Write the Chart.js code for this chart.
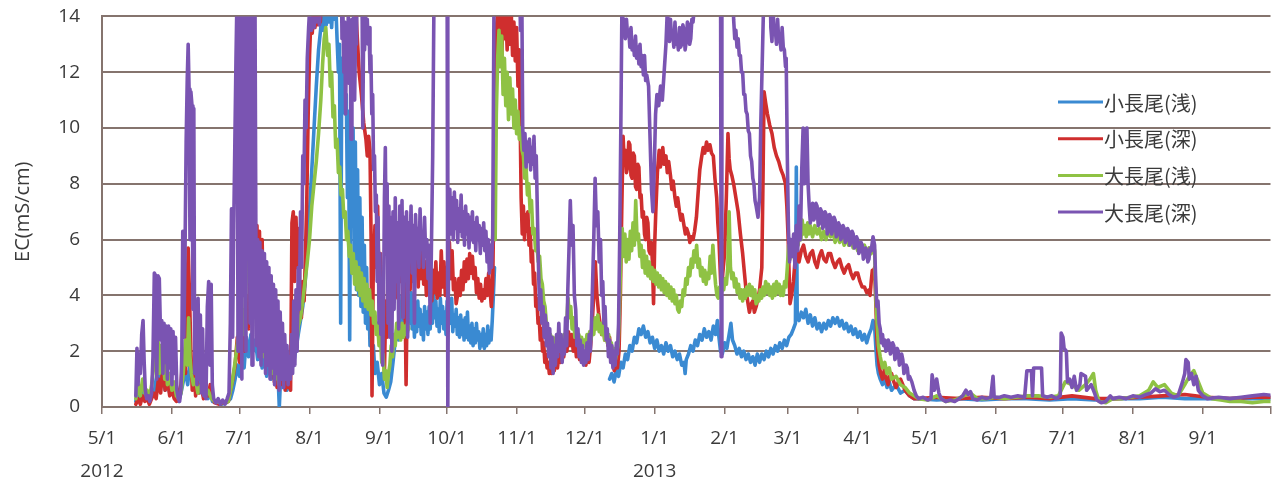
<!DOCTYPE html>
<html lang="ja">
<head>
<meta charset="utf-8">
<title>EC 小長尾・大長尾</title>
<script src="https://cdn.jsdelivr.net/npm/chart.js@4.4.1/dist/chart.umd.min.js"></script>
<style>
  html, body { margin: 0; padding: 0; background: #ffffff; }
  #wrap { width: 1279px; height: 482px; }
</style>
</head>
<body>
<div id="wrap"><canvas id="ec" width="1279" height="482"></canvas></div>
<script>
// ---------- data ----------
// x values are days counted from the axis start date; y values are EC in mS/cm
const axisStart = '2012-05-01';
const axisEnd = '2013-10-01';
const seriesLabels = ['小長尾(浅)', '小長尾(深)', '大長尾(浅)', '大長尾(深)'];
const monthTicks = ['2012-05-01', '2012-06-01', '2012-07-01', '2012-08-01', '2012-09-01', '2012-10-01',
  '2012-11-01', '2012-12-01', '2013-01-01', '2013-02-01', '2013-03-01', '2013-04-01', '2013-05-01',
  '2013-06-01', '2013-07-01', '2013-08-01', '2013-09-01', '2013-10-01'];
const monthLabels = ['5/1', '6/1', '7/1', '8/1', '9/1', '10/1', '11/1', '12/1', '1/1', '2/1', '3/1',
  '4/1', '5/1', '6/1', '7/1', '8/1', '9/1', ''];
const yearTicks = ['2012-05-01', '2013-01-01'];
const yearLabels = ['2012', '2013'];
const yMin = 0, yMax = 14, yStep = 2;

// 小長尾(浅)
const koShallow = [
[15,0.2],[16,0.6],[17,0.3],[18,0.8],[19,0.3],[20,0.5],[21,0.2],[22,0.6],[23,0.4],[24,1.0],[25,1.4],[26,0.7],[27,1.1],[28,0.6],[29,1.0],[30,0.5],[31,0.8],[32,0.4],[33,0.3],[34,0.2],[35,0.5],[36,0.9],[37,1.3],[38,0.8],[39,1.6],[40,1.1],[41,1.4],[42,0.7],[43,1.5],[44,0.6],[45,0.4],[46,0.6],[47,0.3],[48,0.5],[49,0.2],[51,0.15],[53,0.1],[55,0.15],[57,0.3],[58,0.6],[59,1.0],[60,1.5],[61,1.1],[62,1.9],[63,1.4],[64,2.5],[65,1.8],[66,2.6],[67,2.0],[68,2.4],[69,1.7],[70,2.1],[71,1.4],[72,1.8],[73,1.1],[74,1.6],[75,1.0],[76,1.5],[77,0.8],[78,1.2],[78.6,0.0],[79.2,1.1],[80,0.7],[81,1.1],[82,0.6],[83,1.0],[84,1.3],[85,1.6],[86,2.1],[87,2.6],[88,3.1],[89,3.6],[90,4.4],[91,5.5],[92,7.0],[93,8.5],[94,10.0],[95,11.5],[96,12.8],[97,13.6],[97.6,14.3],[98.2,13.5],[98.8,14.4],[99.4,13.7],[100,14.5],[100.6,13.8],[101.2,14.5],[101.8,13.6],[102.4,14.6],[103,13.9],[103.6,14.5],[104.2,13.2],[104.8,12.0],[105.3,13.0],[105.8,3.0],[106.3,12.5],[106.8,10.8],[107.3,12.0],[107.8,10.5],[108.3,11.2],[108.8,7.5],[109.3,10.6],[109.8,2.4],[110.3,10.4],[110.8,6.5],[111.3,10.0],[111.8,5.0],[112.3,9.5],[112.8,4.2],[113.3,8.5],[113.8,4.0],[114.3,7.5],[114.8,3.6],[115.3,6.8],[115.8,3.4],[116.3,5.8],[116.8,3.0],[117.3,5.0],[117.8,2.8],[118.3,4.0],[118.8,2.2],[119.3,3.0],[119.8,1.8],[120.3,2.2],[121,1.2],[122,1.6],[123,0.8],[124,1.2],[125,0.5],[126,0.35],[127,0.6],[128,0.9],[129,1.6],[130,2.4],[131,3.0],[131.5,2.4],[132,3.6],[132.5,2.8],[133,4.0],[133.5,2.6],[134,3.8],[134.5,2.5],[135,3.5],[135.5,2.7],[136,3.9],[136.5,3.0],[137,4.1],[137.5,2.8],[138,3.6],[138.5,2.5],[139,3.4],[139.5,2.7],[140,3.8],[140.5,2.9],[141,3.5],[141.5,2.6],[142,3.3],[142.5,2.4],[143,3.6],[143.5,2.8],[144,3.4],[144.5,2.6],[145,3.6],[145.5,2.8],[146,3.9],[146.5,3.0],[147,4.1],[147.5,3.2],[148,3.8],[148.5,2.9],[149,3.5],[149.5,2.7],[150,3.9],[150.5,3.0],[151,3.6],[151.5,2.8],[152,3.4],[152.5,2.6],[153,3.8],[153.5,2.9],[154,3.6],[154.5,3.0],[155,3.9],[155.5,2.7],[156,3.3],[156.5,2.9],[157,3.5],[157.5,2.6],[158,3.2],[158.5,2.5],[159,3.3],[159.5,2.6],[160,3.1],[160.5,2.4],[161,3.2],[161.5,2.5],[162,3.4],[162.5,2.4],[163,2.9],[163.5,2.3],[164,3.0],[164.5,2.2],[165,2.8],[165.5,2.3],[166,3.0],[166.5,2.4],[167,2.7],[167.5,2.1],[168,2.6],[168.5,2.2],[169,2.8],[169.5,2.1],[170,2.6],[170.5,2.2],[171,2.9],[171.5,2.3],[172,2.7],[172.5,2.4],[173,3.1],[173.5,4.0],[174,5.0],[174.4,null],
[225,1.0],[226,1.2],[227,0.9],[228,1.3],[229,1.1],[230,1.6],[231,1.4],[232,1.9],[233,1.7],[234,2.2],[235,2.0],[236,2.5],[237,2.3],[238,2.8],[239,2.6],[240,2.9],[241,2.5],[242,2.7],[243,2.3],[244,2.5],[245,2.1],[246,2.4],[247,2.0],[248,2.2],[249,1.9],[250,2.3],[251,2.0],[252,2.2],[253,1.8],[254,2.0],[255,1.7],[256,1.9],[257,1.5],[258,1.6],[258.5,1.2],[259,1.7],[260,1.9],[261,2.2],[262,2.0],[263,2.4],[264,2.2],[265,2.6],[266,2.4],[267,2.8],[268,2.5],[269,2.7],[270,2.4],[271,2.9],[272,2.6],[272.8,3.1],[273.5,2.5],[274.2,2.0],[275,1.9],[276,2.3],[277,2.1],[278,2.6],[278.8,3.0],[279.5,2.4],[280.5,2.2],[281.5,1.9],[282.5,2.1],[283.5,1.8],[284.5,2.0],[285.5,1.7],[286.5,1.9],[287.5,1.6],[288.5,1.8],[289.5,1.5],[290.5,1.9],[291.5,1.6],[292.5,1.9],[293.5,1.7],[294.5,2.0],[295.5,1.8],[296.5,2.1],[297.5,1.9],[298.5,2.2],[299.5,2.0],[300.5,2.3],[301.5,2.1],[302.5,2.4],[303.5,2.2],[304.5,2.5],[305.5,2.6],[306.5,2.8],[307.4,3.0],[307.8,8.6],[308.2,3.2],[309,3.1],[310,3.4],[311,3.2],[312,3.5],[313,3.0],[314,3.3],[315,2.9],[316,3.2],[317,2.8],[318,3.0],[319,2.7],[320,3.0],[321,2.8],[322,3.1],[323,2.9],[324,3.2],[325,3.0],[326,3.2],[327,2.9],[328,3.1],[329,2.8],[330,3.0],[331,2.7],[332,2.9],[333,2.6],[334,2.8],[335,2.5],[336,2.7],[337,2.4],[338,2.6],[339,2.3],[340,2.6],[341,2.8],[341.8,3.1],[342.5,2.9],[343,2.2],[343.6,1.5],[344.2,1.2],[345,1.0],[346,0.8],[347,1.0],[348,0.7],[349,0.9],[350,0.6],[352,0.8],[354,0.5],[356,0.6],[358,0.4],[360,0.3],[362,0.3],[370,0.25],[380,0.3],[390,0.25],[400,0.3],[410,0.3],[420,0.25],[430,0.3],[440,0.25],[450,0.3],[460,0.3],[470,0.35],[480,0.3],[490,0.3],[500,0.3],[510,0.3],[518,0.3]
];

// 小長尾(深)
const koDeep = [
[15,0.1],[16,0.3],[17,0.1],[18,0.4],[19,0.2],[20,0.3],[21,0.1],[22,0.3],[23,0.5],[24,0.3],[25,1.0],[26,0.5],[27,1.5],[28,0.6],[29,1.0],[30,0.4],[31,0.6],[32,0.3],[33,0.2],[34,0.5],[35,0.8],[36,2.0],[37,1.2],[37.6,3.5],[38.2,5.7],[38.8,4.0],[39.4,2.0],[40,0.6],[41,1.2],[41.5,0.4],[42,1.0],[43,0.5],[44,0.8],[45,0.3],[46,0.6],[47,0.4],[48,0.8],[49,0.3],[50,0.15],[52,0.1],[54,0.15],[56,0.2],[57,0.6],[58,1.0],[59,1.5],[60,2.5],[61,1.6],[62,3.5],[63,2.0],[64,4.0],[65,2.8],[66,6.0],[66.8,8.8],[67.5,7.0],[68,5.5],[68.7,6.5],[69.2,4.0],[69.8,6.3],[70.4,3.5],[71,6.0],[71.6,2.5],[72.2,5.2],[72.8,2.0],[73.4,4.6],[74,1.6],[74.6,4.0],[75.2,1.2],[75.8,3.0],[76.4,0.9],[77,2.6],[77.6,0.7],[78.2,2.3],[78.8,1.0],[79.4,2.0],[80,0.8],[80.6,1.8],[81.2,0.6],[81.8,1.5],[82.4,0.7],[83,1.2],[83.6,0.6],[84.2,6.6],[84.8,7.0],[85.4,4.5],[86,6.8],[86.6,5.0],[87.2,6.4],[87.8,3.5],[88.4,3.2],[89,4.5],[89.6,3.8],[90.2,5.5],[90.8,7.5],[91.4,10.5],[92,12.6],[92.6,13.9],[93.2,13.4],[93.8,14.2],[94.4,13.6],[95,14.3],[95.6,13.7],[96.2,14.2],[96.8,13.8],[97.4,15],[112,15],[113,13.5],[114,12.0],[115,11.2],[116,10.2],[117,9.6],[117.6,9.0],[118.2,9.7],[118.8,9.2],[119.3,6.0],[119.7,0.4],[120.2,4.5],[121,6.5],[121.6,5.0],[122.2,7.2],[122.8,4.2],[123.4,5.5],[124,3.2],[124.6,4.8],[125.2,1.2],[125.8,3.8],[126.4,2.5],[127,4.6],[127.6,3.0],[128.2,5.2],[128.8,3.5],[129.4,5.8],[130,3.9],[130.6,5.5],[131.2,4.0],[131.8,6.0],[132.4,4.5],[133,5.6],[133.6,3.2],[134.2,5.0],[134.8,0.8],[135.4,4.6],[136,5.8],[136.6,4.2],[137.2,5.9],[137.8,4.5],[138.4,6.2],[139,4.8],[139.6,5.5],[140.2,4.3],[140.8,6.0],[141.4,4.6],[142,5.7],[142.6,4.4],[143.2,5.2],[143.8,4.0],[144.4,5.5],[145,4.2],[145.6,5.0],[146.2,3.8],[146.8,4.9],[147.4,4.1],[148,5.2],[148.6,3.9],[149.2,4.8],[149.8,4.0],[150.4,5.6],[151,4.3],[151.6,5.2],[152.2,4.0],[152.8,5.0],[153.4,4.5],[154,5.9],[154.6,4.6],[155.2,5.6],[155.8,4.2],[156.4,4.6],[157,3.7],[157.6,4.0],[158.2,4.6],[158.8,4.0],[159.4,4.9],[160,4.2],[160.6,5.2],[161.2,4.5],[161.8,5.3],[162.4,4.6],[163,5.5],[163.6,4.8],[164.2,5.4],[164.8,4.6],[165.4,5.0],[166,4.1],[166.6,4.6],[167.2,3.9],[167.8,4.4],[168.4,3.8],[169,4.2],[169.6,3.9],[170.2,4.6],[170.8,4.0],[171.4,4.8],[172,4.2],[172.6,3.6],[173.2,4.4],[173.8,8.0],[174.3,10.0],[174.8,13.5],[175.4,14.2],[176,13.0],[176.6,14.3],[177.2,12.5],[177.8,14.0],[178.4,13.2],[179,14.3],[179.6,12.8],[180.2,14.1],[180.8,13.0],[181.4,14.2],[182,12.6],[182.6,13.8],[183.2,12.4],[183.8,13.6],[184.4,11.5],[185,12.8],[185.5,9.5],[185.8,7.5],[186.3,6.2],[186.8,7.2],[187.3,6.0],[187.8,6.9],[188.3,6.3],[188.8,7.0],[189.3,5.8],[189.8,6.4],[190.3,5.2],[190.8,5.6],[191.3,4.4],[191.8,4.8],[192.3,3.6],[192.8,3.9],[193.3,3.0],[193.8,3.2],[194.3,2.4],[194.8,2.8],[195.3,2.0],[195.8,2.3],[196.3,1.6],[196.8,1.9],[197.3,1.4],[197.8,1.6],[198.3,1.2],[198.8,1.5],[199.3,1.2],[199.8,1.4],[200.5,1.3],[201.2,1.7],[201.9,1.4],[202.6,1.9],[203.3,1.6],[204,2.2],[204.7,1.8],[205.4,2.5],[206.1,2.0],[206.8,2.7],[207.5,2.2],[208.2,2.6],[208.9,2.0],[209.6,2.4],[210.3,1.8],[211,2.2],[211.7,1.7],[212.4,2.1],[213.1,1.6],[213.8,2.0],[214.5,1.5],[215.2,1.9],[215.9,1.6],[216.6,2.2],[217.3,3.0],[218,4.0],[218.7,5.2],[219.4,4.0],[220.1,3.4],[220.8,3.0],[221.5,2.6],[222.2,3.0],[222.9,2.4],[223.6,2.8],[224.3,2.2],[225,2.5],[225.7,1.8],[226.4,1.6],[227.1,1.3],[227.8,1.5],[228.5,1.4],[229.2,2.0],[229.8,4.0],[230.4,7.0],[231,9.7],[231.5,8.8],[232,9.2],[232.5,8.4],[233,8.6],[233.5,9.5],[234,9.4],[234.5,8.3],[235,8.2],[235.5,9.1],[236,9.0],[236.5,7.9],[237,7.8],[237.5,8.7],[238,8.6],[238.5,7.5],[239,7.6],[239.5,6.8],[240,7.0],[240.5,6.2],[241,6.0],[241.5,6.8],[242,6.6],[242.5,5.6],[243,5.5],[243.5,5.9],[244,5.2],[244.5,3.7],[245,5.8],[245.5,7.0],[246.2,8.4],[247,9.2],[247.5,8.6],[248,8.8],[248.6,9.3],[249.2,8.7],[250,9.0],[250.6,8.4],[251.2,8.8],[252,8.3],[252.6,7.8],[253.2,8.1],[254,7.5],[254.6,7.2],[255.2,7.5],[256,7.0],[256.6,6.7],[257.2,6.9],[258,6.5],[258.6,6.2],[259.2,6.4],[260,6.2],[260.6,5.9],[261.2,6.1],[262,6.0],[262.7,6.3],[263.5,6.8],[264.2,7.6],[265,8.5],[265.7,8.9],[266.5,9.3],[267.2,9.1],[268,9.5],[268.7,9.2],[269.5,9.4],[270.2,9.1],[271,9.0],[271.7,8.2],[272.5,7.5],[273,6.6],[273.5,6.0],[274,5.0],[274.5,4.0],[275.2,4.8],[276,5.5],[276.8,7.6],[277.5,9.8],[278,8.9],[278.5,8.5],[279.2,8.3],[280,8.0],[281,7.5],[282,7.0],[283,6.2],[284,5.5],[284.8,4.8],[285.5,4.2],[286.2,3.8],[287,3.4],[287.8,3.7],[288.5,3.8],[289.2,3.4],[290,3.6],[290.8,3.9],[291.5,4.2],[292,4.6],[292.5,5.0],[293,8.0],[293.5,11.3],[294.2,10.9],[295,10.5],[296,10.1],[297,9.8],[298,9.3],[299,9.0],[300,8.8],[301,8.5],[302,8.3],[303,8.0],[303.6,7.2],[304.2,6.0],[304.6,4.8],[305,3.7],[305.7,4.0],[306.5,4.5],[307.2,5.2],[308,5.8],[308.5,5.4],[309,5.2],[310,5.6],[311,5.8],[312,5.4],[313,5.2],[314,5.5],[315,5.6],[316,5.2],[317,5.0],[318,5.4],[319,5.6],[320,5.3],[321,5.2],[322,5.5],[323,5.5],[324,5.2],[325,5.0],[326,5.2],[327,5.3],[328,5.0],[329,4.8],[330,5.0],[331,5.1],[332,4.8],[333,4.6],[334,4.8],[335,4.8],[336,4.5],[337,4.3],[338,4.3],[339,4.1],[340,4.2],[340.5,4.0],[341,4.5],[341.5,4.9],[342,4.8],[342.5,5.0],[343,3.8],[343.5,2.5],[344,1.9],[344.5,1.5],[345.2,1.2],[346,1.0],[347,1.4],[347.7,1.0],[348.5,0.8],[349.2,1.1],[350,1.2],[351,0.9],[352,0.7],[353,0.9],[354,1.0],[355,0.8],[356,0.6],[357,0.5],[358,0.4],[360,0.3],[362,0.3],[370,0.35],[380,0.3],[390,0.35],[400,0.3],[410,0.35],[420,0.3],[430,0.4],[440,0.3],[450,0.3],[460,0.35],[470,0.4],[480,0.45],[490,0.35],[500,0.3],[510,0.35],[518,0.35]
];

// 大長尾(浅)
const ooShallow = [
[15,0.3],[16,0.8],[17,0.4],[18,1.0],[19,0.5],[20,0.6],[21,0.3],[22,0.8],[23,1.5],[23.6,2.6],[24.2,1.4],[24.8,2.5],[25.4,1.2],[26,2.2],[26.6,1.3],[27.2,2.0],[27.8,1.0],[28.4,1.6],[29,0.8],[30,1.2],[31,0.6],[32,0.9],[33,0.4],[34,0.3],[35,0.5],[36,1.2],[37,2.4],[37.8,1.5],[38.4,3.2],[39,1.8],[39.6,1.2],[40.5,0.8],[41.5,1.0],[42.5,0.5],[44,0.8],[45.5,0.4],[47,0.6],[48.5,0.3],[50,0.2],[53,0.15],[56,0.2],[57.5,0.8],[59,1.6],[60.5,2.6],[62,3.5],[63,2.6],[64,4.8],[65,6.5],[65.8,8.8],[66.5,5.0],[67.2,3.2],[68,4.2],[68.8,2.5],[69.6,3.5],[70.4,2.0],[71.2,3.0],[72,1.8],[72.8,2.6],[73.6,1.5],[74.4,2.2],[75.2,1.2],[76,1.9],[76.8,1.0],[77.6,1.6],[78.4,0.8],[79.2,1.4],[80,1.0],[81,1.5],[82,1.2],[83,1.8],[84,1.5],[85,2.2],[86,2.0],[87,2.9],[88,3.2],[89,3.8],[90,4.5],[91,5.2],[92,6.0],[93,7.2],[94,8.0],[95,8.8],[96,9.8],[97,11.0],[97.8,12.3],[98.5,13.2],[99.2,13.6],[100,12.6],[100.6,13.0],[101.2,11.5],[101.8,12.0],[102.4,10.4],[103,10.8],[103.6,9.3],[104.2,9.6],[104.8,8.4],[105.4,8.6],[106,7.6],[106.6,7.8],[107.2,6.8],[107.8,7.0],[108.4,6.0],[109,6.3],[109.6,5.4],[110.2,5.8],[110.8,4.8],[111.4,5.5],[112,4.4],[112.6,5.2],[113.2,4.2],[113.8,5.0],[114.4,4.0],[115,4.8],[115.6,3.8],[116.2,4.6],[116.8,3.6],[117.4,4.4],[118,3.5],[118.6,4.2],[119.2,3.3],[119.8,3.8],[120.4,3.0],[121,3.4],[121.6,2.6],[122.2,3.0],[122.8,2.2],[123.4,2.6],[124,1.6],[124.6,1.9],[125.2,1.0],[125.8,1.3],[126.4,0.7],[127,1.2],[127.6,1.5],[128.2,2.2],[128.8,1.8],[129.4,2.6],[130,2.2],[130.6,3.0],[131.2,2.5],[131.8,2.9],[132.4,2.4],[133,3.0],[133.6,2.5],[134.2,2.9],[134.8,2.6],[135.4,3.0],[136,2.8],[136.5,null],
[174.3,6.0],[174.8,10.5],[175.4,12.5],[176,13.5],[176.6,12.2],[177.2,13.3],[177.8,11.2],[178.4,12.5],[179,10.8],[179.6,12.0],[180.2,10.3],[180.8,11.8],[181.4,10.5],[182,11.4],[182.6,10.0],[183.2,11.0],[183.8,9.8],[184.4,10.6],[185,9.6],[185.6,10.0],[186.2,9.2],[186.8,9.0],[187.4,8.2],[188,8.6],[188.6,7.6],[189.2,8.0],[189.8,7.0],[190.4,7.4],[191,6.2],[191.6,6.4],[192.2,5.6],[192.8,5.8],[193.4,5.2],[194,5.4],[194.6,4.6],[195.2,4.4],[195.8,3.8],[196.4,3.6],[197,3.0],[197.6,2.8],[198.2,2.4],[198.8,2.6],[199.4,2.2],[200,2.5],[200.6,2.1],[201.2,2.4],[201.8,2.0],[202.4,2.3],[203,2.0],[203.6,2.5],[204.2,2.1],[204.8,2.6],[205.4,2.3],[206,3.0],[206.6,3.9],[207.2,3.2],[207.8,3.6],[208.4,2.8],[209,3.2],[209.6,2.5],[210.2,2.8],[210.8,2.3],[211.4,2.6],[212,2.2],[212.6,2.5],[213.2,2.1],[213.8,2.4],[214.4,2.2],[215,2.6],[215.6,2.3],[216.2,2.7],[216.8,2.4],[217.4,2.9],[218,2.6],[218.6,3.2],[219.2,2.8],[219.8,3.3],[220.4,2.7],[221,3.0],[221.6,2.6],[222.2,2.9],[222.8,2.4],[223.4,2.8],[224,2.3],[224.6,2.6],[225.2,2.0],[225.8,2.3],[226.4,1.8],[227,2.1],[227.6,1.7],[228.2,2.0],[228.8,2.2],[229.4,3.5],[230,5.5],[230.6,6.4],[231.2,5.4],[231.8,6.2],[232.4,5.2],[233,6.0],[233.6,5.3],[234.2,6.3],[234.8,5.6],[235.4,6.6],[236,5.8],[236.6,7.4],[237.2,6.0],[237.8,6.2],[238.4,5.4],[239,5.8],[239.6,5.0],[240.2,5.6],[240.8,4.8],[241.4,5.4],[242,4.7],[242.6,5.2],[243.2,4.6],[243.8,5.0],[244.4,4.5],[245,4.9],[245.6,4.4],[246.2,4.8],[246.8,4.3],[247.4,4.7],[248,4.2],[248.6,4.6],[249.2,4.1],[249.8,4.5],[250.4,4.0],[251,4.4],[251.6,3.9],[252.2,4.3],[252.8,3.8],[253.4,4.2],[254,3.7],[254.6,4.0],[255.2,3.5],[255.8,3.4],[256.4,3.8],[257,3.6],[257.6,4.2],[258.2,4.0],[258.8,4.6],[259.4,4.4],[260,5.0],[260.6,4.7],[261.2,5.3],[261.8,5.0],[262.4,5.6],[263,5.2],[263.6,5.8],[264.2,5.0],[264.8,5.3],[265.4,4.7],[266,5.0],[266.6,4.5],[267.2,4.9],[267.8,4.4],[268.4,4.8],[269,4.6],[269.6,5.4],[270.2,4.8],[270.8,5.8],[271.4,5.0],[272,4.4],[272.6,4.0],[273.2,3.9],[273.8,4.3],[274.4,4.0],[275,4.4],[275.6,4.2],[276.2,4.6],[276.8,4.4],[277.4,5.0],[278,7.0],[278.6,5.0],[279.2,4.6],[279.8,4.8],[280.4,4.3],[281,4.6],[281.6,4.1],[282.2,4.4],[282.8,3.9],[283.4,4.2],[284,3.8],[284.6,4.2],[285.2,3.9],[285.8,4.3],[286.4,4.0],[287,4.4],[287.6,4.0],[288.2,4.3],[288.8,3.9],[289.4,4.2],[290,3.7],[290.6,4.0],[291.2,3.8],[291.8,4.2],[292.4,3.9],[293,4.3],[293.6,4.0],[294.2,4.5],[294.8,4.1],[295.4,4.4],[296,4.0],[296.6,4.3],[297.2,3.9],[297.8,4.4],[298.4,4.0],[299,4.5],[299.6,4.1],[300.2,4.4],[300.8,4.0],[301.4,4.3],[302,4.0],[302.6,4.5],[303.2,4.3],[303.8,5.0],[304.4,5.8],[305,5.3],[305.6,5.8],[306.2,5.4],[306.8,6.0],[307.4,5.6],[308,6.2],[308.6,5.8],[309.2,6.4],[309.8,6.0],[310.4,6.7],[311,6.2],[311.6,6.5],[312.2,6.1],[312.8,6.6],[313.4,6.2],[314,6.5],[315,6.1],[316,6.5],[317,6.2],[318,6.4],[319,6.0],[320,6.3],[321,6.0],[322,6.4],[323,6.1],[324,6.3],[325,5.9],[326,6.2],[327,5.9],[328,6.1],[329,5.8],[330,6.1],[331,5.8],[332,6.0],[333,5.7],[334,5.9],[335,5.6],[336,5.9],[337,5.6],[338,5.8],[339,5.5],[340,5.7],[341,5.5],[341.8,5.9],[342.5,5.6],[343,4.0],[343.6,3.0],[344.2,2.2],[345,1.8],[346,1.4],[347,1.6],[348,1.2],[349,1.4],[350,1.0],[352,1.1],[354,0.8],[356,0.7],[358,0.5],[360,0.4],[362,0.3],[366,0.25],[370,0.4],[374,0.2],[378,0.25],[382,0.4],[385,0.5],[388,0.3],[392,0.3],[396,0.35],[400,0.3],[405,0.35],[410,0.4],[415,0.4],[420,0.35],[424,0.4],[427,0.9],[430,0.8],[433,0.6],[436,0.8],[438,1.0],[439.5,1.2],[440.5,0.6],[442,0.2],[445,0.15],[448,0.3],[452,0.3],[456,0.35],[460,0.4],[464,0.6],[466,0.9],[468,0.7],[471,0.8],[474,0.5],[477,0.4],[480,0.8],[482,1.1],[484,1.3],[486,0.9],[488,0.5],[492,0.3],[496,0.25],[500,0.2],[505,0.2],[510,0.15],[515,0.2],[518,0.2]
];

// 大長尾(深)
const ooDeep = [
[15,0.4],[15.5,2.1],[16,0.8],[16.5,1.9],[17,1.2],[17.6,2.6],[18.2,3.1],[18.7,1.6],[19.2,0.6],[19.8,0.3],[20.5,0.4],[21.2,0.2],[22,0.5],[22.6,1.8],[23.2,4.8],[23.8,4.7],[24.3,1.0],[24.8,4.7],[25.4,4.6],[26,2.4],[26.5,3.1],[27,1.2],[27.5,3.0],[28,1.6],[28.5,2.9],[29,1.0],[29.5,2.9],[30,1.4],[30.5,2.8],[31,0.8],[31.5,2.7],[32,1.2],[32.6,2.5],[33.2,0.6],[33.8,0.3],[34.4,0.2],[35,0.6],[35.4,2.0],[35.8,6.3],[36.3,2.5],[36.8,5.5],[37.3,9.5],[37.8,11.8],[38.2,13.0],[38.6,11.4],[39,6.0],[39.4,11.3],[39.9,10.8],[40.3,3.5],[40.7,10.7],[41.1,1.2],[41.6,3.6],[42.1,0.8],[42.6,3.9],[43.1,1.0],[43.6,3.3],[44.1,0.5],[44.6,2.8],[45.1,0.4],[45.6,1.5],[46.1,0.3],[46.7,3.6],[47.3,4.5],[47.9,1.5],[48.4,4.4],[48.9,0.8],[49.5,0.3],[50.5,0.15],[51.5,0.3],[52.5,0.1],[53.5,0.25],[54.5,0.1],[55.5,0.3],[56.3,0.5],[56.9,3.0],[57.4,7.1],[57.9,2.5],[58.4,6.5],[58.9,9.5],[59.4,12.5],[59.9,15],[60.3,2.0],[60.7,15],[61.1,5.0],[61.5,15],[62,1.0],[62.4,15],[62.9,4.0],[63.3,15],[63.8,2.0],[64.2,15],[64.7,6.0],[65.1,15],[65.6,3.0],[66,15],[66.5,1.5],[66.9,15],[67.4,5.0],[67.8,15],[68.2,6.5],[68.6,2.2],[69,6.0],[69.5,1.8],[70,5.9],[70.5,1.5],[71,5.6],[71.5,2.0],[72,5.5],[72.5,1.2],[73,5.2],[73.5,1.5],[74,5.0],[74.5,1.0],[75,4.7],[75.5,1.4],[76,4.4],[76.5,0.8],[77,4.2],[77.5,1.2],[78,3.8],[78.5,0.6],[79,3.4],[79.5,1.0],[80,3.0],[80.5,0.7],[81,2.6],[81.5,1.0],[82,2.2],[82.5,0.8],[83,1.8],[83.5,1.0],[84,2.6],[84.5,1.2],[85,3.8],[85.5,1.5],[86,4.2],[86.5,2.0],[87,5.0],[87.5,3.5],[88,7.0],[88.5,5.0],[89,9.0],[89.5,8.0],[90,11.0],[90.5,10.0],[91,12.5],[91.6,13.6],[92.2,14.5],[92.8,13.5],[93.4,14.4],[94,13.6],[94.6,14.6],[95.2,13.8],[95.8,14.5],[96.4,13.7],[97,14.6],[97.5,16],[106,16],[106.4,13.2],[106.8,14.2],[107.2,12.0],[107.6,13.8],[108,10.5],[108.4,13.6],[108.8,12.8],[109.2,14.1],[109.6,11.6],[110,13.7],[110.4,9.6],[110.8,13.9],[111.2,12.4],[111.6,14.2],[112,11.0],[112.4,13.5],[112.8,13.0],[113.2,16],[115.2,16],[115.6,10.0],[116,13.6],[116.4,12.8],[116.8,14.0],[117.2,13.2],[117.6,13.9],[118,13.0],[118.4,13.6],[118.8,12.0],[119.2,12.6],[119.6,10.5],[120,11.2],[120.4,8.5],[120.8,9.0],[121.2,7.0],[121.6,7.6],[122,4.5],[122.4,6.8],[122.8,3.0],[123.2,5.5],[123.6,2.6],[124,4.0],[124.4,1.5],[124.8,3.5],[125.2,7.5],[125.6,9.3],[126,5.5],[126.4,8.0],[126.8,3.0],[127.2,7.2],[127.6,2.5],[128,6.8],[128.5,2.0],[129,7.0],[129.5,3.5],[130,7.5],[130.5,4.5],[131,6.6],[131.5,2.8],[132,7.2],[132.5,5.0],[133,7.4],[133.5,3.2],[134,6.8],[134.5,5.2],[135,7.0],[135.5,2.5],[136,6.6],[136.5,5.5],[137,7.2],[137.5,4.8],[138,6.5],[138.5,3.0],[139,6.9],[139.5,5.6],[140,6.4],[140.5,5.0],[141,7.1],[141.5,5.7],[142,6.2],[142.5,5.0],[143,6.8],[143.5,5.4],[144,6.0],[144.5,4.6],[145,5.8],[145.5,3.0],[146,5.5],[146.6,9.0],[147.2,15],[153,15],[153.3,0],[153.7,6.6],[154.2,7.8],[154.7,6.2],[155.2,7.5],[155.7,6.0],[156.2,7.7],[156.7,6.4],[157.2,7.4],[157.7,5.9],[158.2,7.1],[158.7,6.3],[159.2,7.6],[159.7,6.1],[160.2,7.0],[160.7,5.8],[161.2,7.2],[161.7,6.2],[162.2,6.9],[162.7,5.7],[163.2,6.8],[163.7,6.0],[164.2,7.0],[164.7,5.9],[165.2,6.6],[165.7,5.6],[166.2,6.8],[166.7,6.0],[167.2,6.5],[167.7,5.5],[168.2,6.4],[168.7,5.8],[169.2,6.6],[169.7,5.6],[170.2,6.3],[170.7,5.2],[171.2,6.0],[171.7,4.8],[172.2,5.8],[172.7,5.0],[173.2,6.2],[173.8,15],[185,16],[185.5,13.5],[186,16],[186.5,10.0],[187,9.2],[187.5,9.8],[188,8.6],[188.5,9.5],[189,8.8],[189.5,9.6],[190,8.5],[190.5,9.3],[191,8.7],[191.5,9.7],[192,8.2],[192.5,9.0],[193,7.0],[193.5,5.0],[194,3.5],[194.5,4.2],[195,3.0],[195.5,3.6],[196,2.5],[196.5,3.3],[197,2.2],[197.5,3.0],[198,1.8],[198.5,2.8],[199,1.4],[199.5,2.5],[200,1.2],[200.5,2.2],[201,1.5],[201.5,2.6],[202,1.8],[202.5,3.0],[203,2.0],[203.5,2.6],[204,1.6],[204.5,2.4],[205,1.9],[205.5,3.2],[206,2.2],[206.5,4.2],[207,5.6],[207.6,7.4],[208.2,5.8],[208.8,6.5],[209.4,4.0],[210,3.5],[210.5,2.2],[211,2.8],[211.5,1.8],[212,2.4],[212.5,1.6],[213,2.2],[213.5,1.5],[214,2.0],[214.5,1.6],[215,2.3],[215.5,1.7],[216,2.6],[216.5,2.0],[217,3.0],[217.5,4.5],[218,6.0],[218.6,8.2],[219.2,6.5],[219.8,7.0],[220.4,5.2],[221,6.0],[221.5,4.0],[222,4.5],[222.5,3.0],[223,3.6],[223.5,2.4],[224,2.8],[224.5,1.8],[225,2.4],[225.5,1.6],[226,2.2],[226.5,1.4],[227,2.0],[227.5,1.5],[228,2.3],[228.5,1.9],[229,3.0],[229.5,6.0],[230,10.0],[230.5,14.5],[231,13.6],[231.5,13.9],[232,13.2],[232.5,13.9],[233,13.3],[233.5,13.5],[234,12.9],[234.5,13.6],[235,12.8],[235.5,13.1],[236,12.6],[236.5,13.3],[237,12.5],[237.5,12.9],[238,12.3],[238.5,13.0],[239,12.2],[239.5,12.6],[240,11.9],[240.5,12.6],[241,11.7],[241.5,11.9],[242.3,11.5],[243,9.5],[243.6,7.8],[244.2,7.0],[244.8,8.5],[245.4,10.5],[246,11.2],[246.8,10.8],[247.6,11.5],[248.4,11.0],[249.2,12.0],[250,13.0],[250.6,14.2],[251.2,13.6],[251.6,13.1],[252,13.9],[252.5,13.2],[253,13.4],[253.5,12.9],[254,13.8],[254.5,13.0],[255,13.2],[255.5,12.8],[256,13.6],[256.5,12.9],[257,13.0],[257.5,13.7],[258,13.5],[258.5,12.8],[259,13.1],[259.5,13.8],[260,13.7],[260.5,13.0],[261,13.2],[261.5,13.9],[262,13.8],[262.8,14.5],[263.5,16],[274.2,16],[274.5,1.8],[274.8,16],[279.5,16],[280,13.9],[280.5,13.2],[281,13.5],[281.5,12.9],[282,13.2],[282.5,12.6],[283,12.6],[283.5,12.0],[284,12.0],[284.5,11.2],[285,11.2],[285.5,10.6],[286,10.5],[286.5,9.9],[287,9.8],[287.5,9.0],[288,8.8],[288.5,8.2],[289,8.0],[289.5,7.4],[290,7.2],[290.8,6.8],[291.5,7.5],[292,10.0],[292.7,12.4],[293.3,14.5],[294,16],[296,16],[296.5,13.6],[297,13.1],[297.5,14.2],[298,13.4],[298.5,13.5],[299,13.0],[299.5,13.9],[300,13.1],[300.5,13.2],[301,12.8],[301.5,13.6],[302,12.9],[302.5,12.8],[303,12.2],[303.3,12.5],[303.8,9.0],[304.3,6.4],[304.8,5.2],[305.3,6.0],[306,5.4],[306.6,6.2],[307.2,5.0],[307.8,6.5],[308.4,5.6],[309,7.2],[309.6,6.0],[310.2,8.5],[310.8,10.0],[311.4,8.0],[312,9.8],[312.5,10.0],[313,8.0],[313.5,7.2],[314,6.6],[314.5,7.0],[315,7.3],[315.5,6.7],[316,6.8],[316.5,7.3],[317,7.2],[317.5,6.5],[318,6.6],[318.5,7.1],[319,7.0],[319.5,6.4],[320,6.5],[320.5,7.0],[321,6.9],[321.5,6.2],[322,6.3],[322.5,6.9],[323,6.8],[323.5,6.2],[324,6.4],[324.5,6.8],[325,6.7],[325.5,6.1],[326,6.2],[326.5,6.6],[327,6.5],[327.5,6.0],[328,6.1],[328.5,6.5],[329,6.4],[329.5,5.9],[330,6.0],[330.5,6.4],[331,6.3],[331.5,5.8],[332,5.9],[332.5,6.3],[333,6.2],[333.5,5.7],[334,5.8],[334.5,6.1],[335,6.0],[335.5,5.5],[336,5.6],[336.5,5.9],[337,5.8],[337.5,5.3],[338,5.4],[338.5,5.7],[339,5.6],[339.5,5.2],[340,5.3],[340.5,5.7],[341,5.6],[341.8,6.1],[342.5,5.8],[343,4.5],[343.5,3.6],[344,3.8],[344.5,3.0],[345,2.8],[345.5,2.3],[346,2.6],[346.5,2.2],[347,2.4],[347.5,2.0],[348,2.1],[348.5,2.4],[349,2.3],[349.5,1.9],[350,2.0],[350.5,2.3],[351,2.2],[351.5,1.7],[352,1.8],[352.5,2.1],[353,2.0],[353.5,1.5],[354,1.6],[354.5,1.9],[355,1.7],[355.5,1.2],[356,1.3],[356.5,1.5],[357,1.4],[357.5,1.0],[358,1.1],[359,0.9],[360,0.6],[361,0.4],[362,0.3],[364,0.35],[366,0.25],[367.5,0.3],[368,1.15],[369,0.6],[370,1.0],[371,0.5],[372,0.3],[374,0.2],[376,0.25],[378,0.2],[380,0.3],[381.5,0.4],[383,0.6],[384,0.45],[385,0.55],[386,0.3],[388,0.25],[390,0.35],[392,0.3],[394,0.35],[395,1.1],[395.5,0.35],[398,0.35],[400,0.4],[403,0.35],[406,0.4],[409,0.35],[410,1.3],[412,1.3],[412.5,0.4],[413,1.4],[416.5,1.4],[417,0.4],[419,0.35],[421,0.4],[423,0.3],[424.8,0.4],[425.2,2.65],[426,2.5],[426.5,2.1],[427.5,2.0],[428,0.9],[429,1.0],[430,0.7],[431,1.1],[432,0.6],[433.5,0.8],[434,1.2],[436,1.1],[436.5,0.6],[437.5,0.7],[438.5,0.8],[440,0.5],[441,0.25],[443,0.15],[445,0.2],[447,0.4],[448,0.3],[451,0.35],[454,0.3],[457,0.4],[460,0.35],[463,0.45],[465,0.5],[467,0.65],[469,0.55],[471,0.6],[473,0.45],[475,0.35],[477,0.4],[479,0.9],[480,1.2],[480.5,1.7],[481.5,1.6],[482,1.0],[483,1.2],[484,0.8],[485,1.1],[486,0.6],[488,0.4],[490,0.3],[495,0.35],[500,0.3],[505,0.35],[510,0.4],[515,0.45],[518,0.42]
];

// ---------- styling ----------
const seriesColors = ['#3a8ad2', '#cf2e2e', '#8fc244', '#7a54b2'];
const gridColor = '#85746e';
const textColor = '#3a3a3a';
const latinFont = "'Open Sans', 'Liberation Sans', sans-serif";
const cjkFont = "'Noto Sans CJK JP', 'Noto Sans', sans-serif";

// ---------- helpers ----------
const DAY_MS = 86400000;
const dayOf = (iso) => (Date.parse(iso + 'T00:00:00Z') - Date.parse(axisStart + 'T00:00:00Z')) / DAY_MS;
const tickDays = monthTicks.map(dayOf);
const toPoints = (pairs) => pairs.map(([x, y]) => ({ x, y }));

function tickLabel(value) {
  const i = tickDays.indexOf(value);
  if (i < 0) return '';
  const y = yearTicks.indexOf(monthTicks[i]);
  return y >= 0 ? [monthLabels[i], yearLabels[y]] : monthLabels[i];
}

// Legend drawn inside the plot, at the right, as a column of line samples with names
const sideLegend = {
  id: 'sideLegend',
  afterDraw(chart, args, opts) {
    const { ctx } = chart;
    ctx.save();
    chart.data.datasets.forEach((ds, i) => {
      const y = opts.top + i * opts.rowGap;
      ctx.strokeStyle = ds.borderColor;
      ctx.lineWidth = opts.lineWidth;
      ctx.lineCap = 'butt';
      ctx.beginPath();
      ctx.moveTo(opts.left, y);
      ctx.lineTo(opts.left + opts.lineLength, y);
      ctx.stroke();
      ctx.fillStyle = opts.color;
      ctx.font = opts.font;
      ctx.textAlign = 'left';
      ctx.textBaseline = 'middle';
      ctx.fillText(ds.label, opts.left + opts.lineLength + 1, y + 1);
    });
    ctx.restore();
  }
};

const seriesData = [koShallow, koDeep, ooShallow, ooDeep];

new Chart(document.getElementById('ec'), {
  type: 'line',
  data: {
    datasets: seriesData.map((d, i) => ({
      label: seriesLabels[i],
      data: toPoints(d),
      borderColor: seriesColors[i],
      backgroundColor: seriesColors[i],
      borderWidth: 3.6,
      pointRadius: 0,
      tension: 0,
      spanGaps: false,
      borderJoinStyle: 'round',
      borderCapStyle: 'round',
      order: seriesData.length - i   // later series drawn on top
    }))
  },
  plugins: [sideLegend],
  options: {
    responsive: false,
    animation: false,
    devicePixelRatio: 1,
    layout: { padding: { top: 0, right: 8, left: 0, bottom: 0 } },
    plugins: {
      legend: { display: false },
      tooltip: { enabled: false },
      sideLegend: {
        left: 1058, top: 102, rowGap: 36.7, lineLength: 45, lineWidth: 3,
        color: textColor, font: '20px ' + cjkFont
      }
    },
    scales: {
      x: {
        type: 'linear',
        min: 0,
        max: dayOf(axisEnd),
        afterBuildTicks: (scale) => { scale.ticks = tickDays.map((v) => ({ value: v })); },
        afterFit: (scale) => { scale.height = 75; },
        grid: { drawOnChartArea: false, drawTicks: true, tickLength: 7, color: gridColor, lineWidth: 1.5 },
        border: { display: true, color: gridColor, width: 2 },
        ticks: {
          autoSkip: false,
          maxRotation: 0,
          minRotation: 0,
          padding: 8.5,
          color: textColor,
          font: { family: latinFont, size: 19, lineHeight: 1.74 },
          callback: (value) => tickLabel(value)
        }
      },
      y: {
        min: yMin,
        max: yMax,
        afterFit: (scale) => { scale.width = 102; },
        // the outer tick marks are invisible; their length only sets the gap to the labels
        grid: { color: gridColor, lineWidth: 2, drawTicks: true, tickLength: 17, tickColor: 'rgba(0,0,0,0)' },
        border: { display: true, color: gridColor, width: 2 },
        ticks: {
          stepSize: yStep,
          padding: 5,
          color: textColor,
          font: { family: latinFont, size: 19 },
          callback: (v) => String(v)
        },
        title: {
          display: true,
          text: 'EC(mS/cm)',
          color: textColor,
          font: { family: latinFont, size: 20 },
          padding: { top: 11, bottom: 0 }
        }
      }
    }
  }
});
</script>
</body>
</html>
